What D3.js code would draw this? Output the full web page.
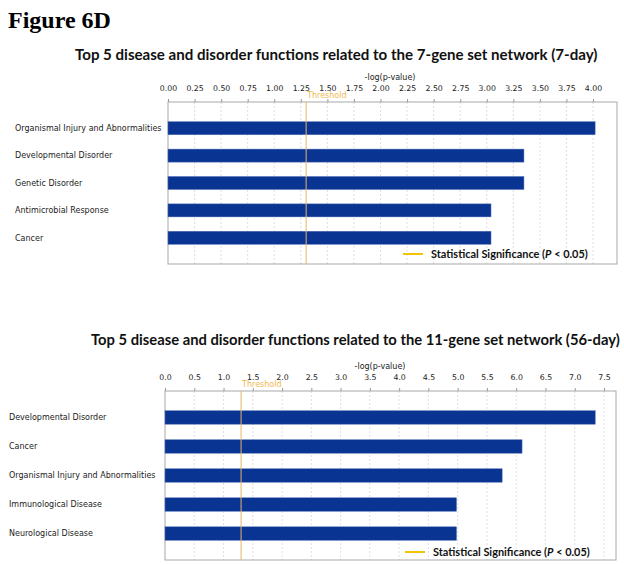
<!DOCTYPE html>
<html>
<head>
<meta charset="utf-8">
<script src="https://cdn.jsdelivr.net/npm/d3@7"></script>
<style>
  html, body { margin: 0; padding: 0; background: #fff; }
  svg { display: block; }
</style>
</head>
<body>
<svg id="fig" width="624" height="565"></svg>
<script>
// ---------- DATA ----------
const figureLabel = "Figure 6D";
const thresholdValue = 1.3; // -log10(0.05)

const titleA = "Top 5 disease and disorder functions related to the 7-gene set network (7-day)";
const categoriesA = ["Organismal Injury and Abnormalities", "Developmental Disorder", "Genetic Disorder", "Antimicrobial Response", "Cancer"];
const valuesA = [4.02, 3.35, 3.35, 3.04, 3.04];
const ticksA = [0, 0.25, 0.5, 0.75, 1.0, 1.25, 1.5, 1.75, 2.0, 2.25, 2.5, 2.75, 3.0, 3.25, 3.5, 3.75, 4.0];
const tickLabelsA = ["0.00","0.25","0.50","0.75","1.00","1.25","1.50","1.75","2.00","2.25","2.50","2.75","3.00","3.25","3.50","3.75","4.00"];

const titleB = "Top 5 disease and disorder functions related to the 11-gene set network (56-day)";
const categoriesB = ["Developmental Disorder", "Cancer", "Organismal Injury and Abnormalities", "Immunological Disease", "Neurological Disease"];
const valuesB = [7.35, 6.10, 5.76, 4.98, 4.98];
const ticksB = [0, 0.5, 1.0, 1.5, 2.0, 2.5, 3.0, 3.5, 4.0, 4.5, 5.0, 5.5, 6.0, 6.5, 7.0, 7.5];
const tickLabelsB = ["0.0","0.5","1.0","1.5","2.0","2.5","3.0","3.5","4.0","4.5","5.0","5.5","6.0","6.5","7.0","7.5"];

const axisTitle = "-log(p-value)";
const thresholdLabel = "Threshold";
const legendPrefix = "Statistical Significance (";
const legendItalic = "P";
const legendSuffix = " < 0.05)";

// ---------- DRAWING ----------
const svg = d3.select("#fig");

function fitText(sel, targetWidth) {
  const node = sel.node();
  const w = node.getComputedTextLength();
  const fs = parseFloat(sel.attr("font-size"));
  if (w > 0) sel.attr("font-size", (fs * targetWidth / w).toFixed(2));
  return sel;
}

svg.append("text")
  .attr("x", 8).attr("y", 28)
  .attr("font-family", "Liberation Serif, Times New Roman, serif")
  .attr("font-weight", "bold")
  .attr("font-size", 24)
  .attr("fill", "#000")
  .text(figureLabel);

function drawChart(opt) {
  const g = svg.append("g");
  const x = d3.scaleLinear().domain(opt.domain).range(opt.xRange);
  const y = d3.scaleBand().domain(opt.categories).range([opt.top, opt.bottom])
    .paddingInner(opt.padIn).paddingOuter(opt.padOut);

  // title
  const t = g.append("text")
    .attr("x", opt.titleX).attr("y", opt.titleY)
    .attr("font-family", "Lato, Open Sans, sans-serif")
    .attr("font-weight", "bold")
    .attr("font-size", 15)
    .attr("fill", "#111")
    .text(opt.title);
  fitText(t, opt.titleW);

  // axis title
  g.append("text")
    .attr("x", opt.axisTitleX).attr("y", opt.top - 22)
    .attr("text-anchor", "middle")
    .attr("font-family", "DejaVu Sans, Tahoma, sans-serif")
    .attr("font-size", 8)
    .attr("fill", "#222")
    .text(axisTitle);

  // gridlines
  g.append("g").selectAll("line").data(opt.ticks.slice(1)).join("line")
    .attr("x1", d => x(d)).attr("x2", d => x(d))
    .attr("y1", opt.top).attr("y2", opt.bottom)
    .attr("stroke", "#d6d6d6").attr("stroke-width", 0.8)
    .attr("stroke-dasharray", "2,2");

  // frame
  g.append("rect")
    .attr("x", opt.xRange[0]).attr("y", opt.top)
    .attr("width", opt.frameRight - opt.xRange[0])
    .attr("height", opt.bottom - opt.top)
    .attr("fill", "none").attr("stroke", "#a8a8a8").attr("stroke-width", 1);

  // axis
  const ax = g.append("g").attr("transform", `translate(0,${opt.top})`)
    .call(d3.axisTop(x).tickValues(opt.ticks)
      .tickFormat((d, i) => opt.tickLabels[i]).tickSize(3).tickSizeOuter(0));
  ax.select(".domain").remove();
  ax.selectAll(".tick line").attr("stroke", "#999");
  ax.selectAll(".tick text")
    .attr("font-family", "DejaVu Sans, Tahoma, sans-serif")
    .attr("font-size", 7.8)
    .attr("fill", "#222")
    .attr("dy", "-0.6em");

  // bars
  g.append("g").selectAll("rect").data(opt.values).join("rect")
    .attr("x", x(0))
    .attr("y", (d, i) => y(opt.categories[i]))
    .attr("width", d => x(d) - x(0))
    .attr("height", y.bandwidth())
    .attr("fill", "#0a3492")
    .attr("stroke", "#4f6fb5").attr("stroke-width", 0.5);

  // threshold line
  g.append("line")
    .attr("x1", x(thresholdValue)).attr("x2", x(thresholdValue))
    .attr("y1", opt.top).attr("y2", opt.bottom)
    .attr("stroke", "#e8b46a").attr("stroke-width", 1);
  g.append("text")
    .attr("x", x(thresholdValue) + 1).attr("y", opt.top - 4)
    .attr("font-family", "DejaVu Sans, Tahoma, sans-serif")
    .attr("font-size", 8)
    .attr("fill", "#f0b850")
    .text(thresholdLabel);

  // category labels
  g.append("g").selectAll("text").data(opt.categories).join("text")
    .attr("x", opt.labelX)
    .attr("y", d => y(d) + y.bandwidth() / 2)
    .attr("dy", "0.35em")
    .attr("font-family", "DejaVu Sans, Tahoma, sans-serif")
    .attr("font-size", 8)
    .attr("fill", "#222")
    .text(d => d);

  // legend
  g.append("line")
    .attr("x1", opt.legendX - 28).attr("x2", opt.legendX - 8)
    .attr("y1", opt.legendY).attr("y2", opt.legendY)
    .attr("stroke", "#f5c400").attr("stroke-width", 2);
  const lt = g.append("text")
    .attr("x", opt.legendX).attr("y", opt.legendY)
    .attr("dy", "0.35em")
    .attr("font-family", "Lato, Open Sans, sans-serif")
    .attr("font-weight", "bold")
    .attr("font-size", 12)
    .attr("fill", "#111");
  lt.append("tspan").text(legendPrefix);
  lt.append("tspan").attr("font-style", "italic").text(legendItalic);
  lt.append("tspan").text(legendSuffix);
  fitText(lt, opt.legendW);
}

drawChart({
  title: titleA, titleX: 75, titleY: 60, titleW: 523,
  categories: categoriesA, values: valuesA, ticks: ticksA, tickLabels: tickLabelsA,
  domain: [0, 4.0], xRange: [168, 593], frameRight: 617,
  top: 102, bottom: 264, padIn: 0.525, padOut: 0.72,
  axisTitleX: 390, labelX: 15,
  legendX: 431, legendY: 254, legendW: 157
});

drawChart({
  title: titleB, titleX: 91, titleY: 345, titleW: 529,
  categories: categoriesB, values: valuesB, ticks: ticksB, tickLabels: tickLabelsB,
  domain: [0, 7.5], xRange: [165, 604], frameRight: 616,
  top: 391, bottom: 560, padIn: 0.536, padOut: 0.68,
  axisTitleX: 380, labelX: 9,
  legendX: 433, legendY: 552, legendW: 157
});
</script>
</body>
</html>
